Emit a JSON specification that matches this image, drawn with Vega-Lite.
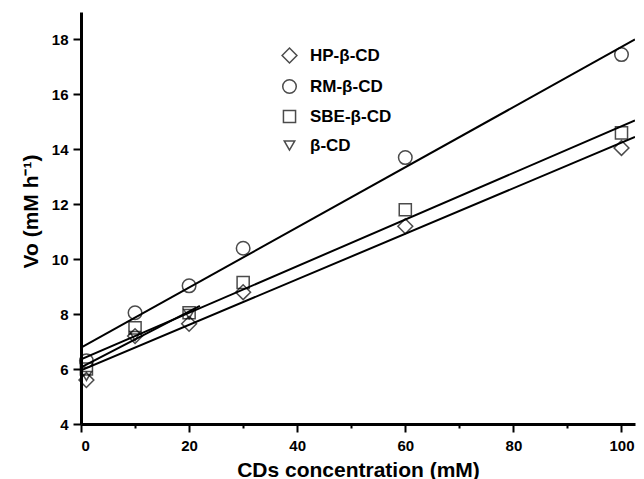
{
  "$schema": "https://vega.github.io/schema/vega-lite/v6.json",
  "width": 554,
  "height": 412,
  "autosize": "none",
  "padding": {"left": 81, "top": 12, "right": 9, "bottom": 55},
  "background": "white",
  "config": {
    "view": {"stroke": null},
    "font": "Liberation Sans",
    "axis": {
      "grid": false,
      "labelFont": "Liberation Sans",
      "labelFontWeight": "bold",
      "labelFontSize": 15,
      "labelColor": "black",
      "domainColor": "black",
      "domainWidth": 3,
      "tickColor": "black",
      "tickWidth": 2,
      "titleFont": "Liberation Sans",
      "titleFontSize": 21,
      "titleFontWeight": "bold",
      "titleColor": "black"
    }
  },
  "datasets": {
    "points": [
      {"series": "HP-β-CD", "conc": 1, "vo": 5.6},
      {"series": "HP-β-CD", "conc": 10, "vo": 7.2},
      {"series": "HP-β-CD", "conc": 20, "vo": 7.65},
      {"series": "HP-β-CD", "conc": 30, "vo": 8.8},
      {"series": "HP-β-CD", "conc": 60, "vo": 11.2},
      {"series": "HP-β-CD", "conc": 100, "vo": 14.05},
      {"series": "RM-β-CD", "conc": 1, "vo": 6.3},
      {"series": "RM-β-CD", "conc": 10, "vo": 8.05},
      {"series": "RM-β-CD", "conc": 20, "vo": 9.03},
      {"series": "RM-β-CD", "conc": 30, "vo": 10.4},
      {"series": "RM-β-CD", "conc": 60, "vo": 13.7},
      {"series": "RM-β-CD", "conc": 100, "vo": 17.45},
      {"series": "SBE-β-CD", "conc": 1, "vo": 6.0},
      {"series": "SBE-β-CD", "conc": 10, "vo": 7.5},
      {"series": "SBE-β-CD", "conc": 20, "vo": 8.05},
      {"series": "SBE-β-CD", "conc": 30, "vo": 9.15},
      {"series": "SBE-β-CD", "conc": 60, "vo": 11.8},
      {"series": "SBE-β-CD", "conc": 100, "vo": 14.6},
      {"series": "β-CD", "conc": 1, "vo": 5.75},
      {"series": "β-CD", "conc": 10, "vo": 7.2},
      {"series": "β-CD", "conc": 20, "vo": 8.0}
    ],
    "fits": [
      {"series": "HP-β-CD", "conc": 0, "vo": 5.95},
      {"series": "HP-β-CD", "conc": 102.5, "vo": 14.45},
      {"series": "RM-β-CD", "conc": 0, "vo": 6.78},
      {"series": "RM-β-CD", "conc": 102.5, "vo": 18.0},
      {"series": "SBE-β-CD", "conc": 0, "vo": 6.35},
      {"series": "SBE-β-CD", "conc": 102.5, "vo": 15.05},
      {"series": "β-CD", "conc": 0, "vo": 6.06},
      {"series": "β-CD", "conc": 22, "vo": 8.3}
    ]
  },
  "layer": [
    {
      "data": {"name": "fits"},
      "mark": {"type": "line", "color": "black", "strokeWidth": 2, "clip": true},
      "encoding": {
        "x": {"field": "conc", "type": "quantitative"},
        "y": {"field": "vo", "type": "quantitative"},
        "detail": {"field": "series"}
      }
    },
    {
      "data": {"name": "points"},
      "mark": {"type": "point", "filled": false, "color": "black", "strokeWidth": 1.5},
      "encoding": {
        "x": {
          "field": "conc",
          "type": "quantitative",
          "scale": {"domain": [0, 102.5], "nice": false, "zero": false},
          "axis": {
            "title": "CDs concentration (mM)",
            "values": [0, 10, 20, 30, 40, 50, 60, 70, 80, 90, 100],
            "labelExpr": "datum.value % 20 === 0 ? datum.label : ''",
            "tickSize": {"condition": {"test": "datum.value % 20 === 0", "value": 8}, "value": 4},
            "labelPadding": 6,
            "titleBaseline": "alphabetic",
            "titleY": 52
          }
        },
        "y": {
          "field": "vo",
          "type": "quantitative",
          "scale": {"domain": [4, 19], "nice": false, "zero": false},
          "axis": {
            "title": "Vo (mM h⁻¹)",
            "values": [4, 5, 6, 7, 8, 9, 10, 11, 12, 13, 14, 15, 16, 17, 18, 19],
            "labelExpr": "datum.value % 2 === 0 ? datum.label : ''",
            "tickSize": {"condition": {"test": "datum.value % 2 === 0", "value": 8}, "value": 4},
            "labelPadding": 5,
            "titleBaseline": "alphabetic",
            "titleAngle": 270,
            "titleAlign": "center",
            "titleX": -44,
            "titleY": 199
          }
        },
        "shape": {
          "field": "series",
          "type": "nominal",
          "scale": {
            "domain": ["HP-β-CD", "RM-β-CD", "SBE-β-CD", "β-CD"],
            "range": ["diamond", "circle", "square", "triangle-down"]
          },
          "legend": {
            "title": null,
            "orient": "none",
            "legendX": 200,
            "legendY": 35,
            "labelFont": "Liberation Sans",
            "labelFontWeight": "bold",
            "labelFontSize": 17,
            "labelColor": "black",
            "labelOffset": 12,
            "rowPadding": 10,
            "symbolStrokeColor": "black",
            "symbolStrokeWidth": 1.5,
            "symbolFillColor": "white"
          }
        },
        "size": {
          "field": "series",
          "type": "nominal",
          "scale": {
            "domain": ["HP-β-CD", "RM-β-CD", "SBE-β-CD", "β-CD"],
            "range": [220, 110, 130, 120]
          },
          "legend": {
            "title": null,
            "orient": "none",
            "legendX": 200,
            "legendY": 35,
            "labelFont": "Liberation Sans",
            "labelFontWeight": "bold",
            "labelFontSize": 17,
            "labelColor": "black",
            "labelOffset": 12,
            "rowPadding": 10,
            "symbolStrokeColor": "black",
            "symbolStrokeWidth": 1.5,
            "symbolFillColor": "white"
          }
        }
      }
    }
  ]
}
